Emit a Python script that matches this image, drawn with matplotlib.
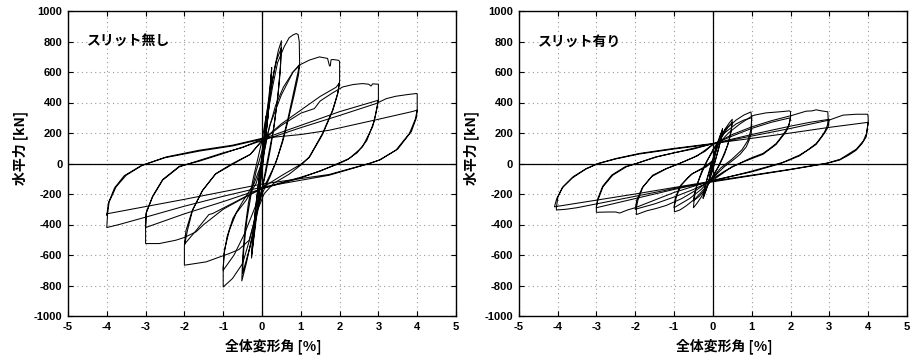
import numpy as np
import matplotlib
matplotlib.use("Agg")
import matplotlib.pyplot as plt

# ---- hysteresis records: (drift angle [%], horizontal force [kN]) ----
# Wall without slit
ns_010 = [(0, 0), (0.05, 160), (0.1, 310), (0.08, 200), (0.03, 60), (0, 0), (-0.05, -140), (-0.1, -290),
          (-0.08, -190), (-0.03, -60), (0, 0), (0.05, 150), (0.1, 300), (0.07, 170), (0, 20), (-0.05, -120),
          (-0.1, -280), (-0.07, -150), (0, -30)]
ns_025 = [(0, -30), (0.08, 150), (0.16, 330), (0.22, 520), (0.25, 630), (0.22, 500), (0.15, 300), (0.07, 120),
          (0, -20), (-0.08, -180), (-0.16, -360), (-0.23, -520), (-0.27, -620), (-0.24, -480), (-0.16, -280),
          (-0.08, -100), (0, 60), (0.08, 220), (0.16, 400), (0.23, 560), (0.25, 600), (0.21, 450), (0.13, 250),
          (0.05, 60), (0, -60), (-0.1, -260), (-0.18, -430), (-0.26, -590), (-0.23, -450), (-0.15, -260),
          (-0.06, -70), (0, 40)]
ns_050 = [(0, 40), (0.1, 230), (0.2, 420), (0.32, 620), (0.42, 740), (0.5, 805), (0.48, 660), (0.42, 470),
          (0.33, 280), (0.22, 100), (0.1, -60), (0, -170), (-0.1, -280), (-0.25, -470), (-0.4, -650),
          (-0.52, -770), (-0.5, -620), (-0.44, -430), (-0.35, -260), (-0.22, -90), (-0.1, 40), (0, 150),
          (0.12, 330), (0.25, 530), (0.38, 680), (0.5, 760), (0.47, 600), (0.4, 420), (0.3, 230), (0.17, 60),
          (0.05, -100), (0, -180), (-0.15, -360), (-0.3, -540), (-0.5, -720), (-0.47, -560), (-0.39, -370),
          (-0.28, -200), (-0.15, -50), (0, 80)]
ns_100 = [(0, 80), (0.12, 280), (0.27, 500), (0.4, 660), (0.57, 765), (0.7, 825), (0.8, 843), (0.88, 852),
          (0.93, 846), (0.96, 800), (0.97, 650), (0.92, 590), (0.79, 437), (0.66, 284), (0.53, 153), (0.4, 40),
          (0.22, -80), (0, -200), (-0.15, -330), (-0.32, -500), (-0.5, -656), (-0.76, -754), (-1.0, -810),
          (-1.0, -680), (-0.97, -569), (-0.84, -437), (-0.67, -328), (-0.41, -241), (-0.15, -130), (0, 0),
          (0.15, 200), (0.35, 380), (0.55, 500), (0.8, 600), (0.97, 650), (0.94, 580), (0.82, 440), (0.68, 290),
          (0.53, 140), (0.35, 0), (0.12, -120), (0, -170), (-0.2, -300), (-0.45, -460), (-0.72, -600),
          (-1.0, -700), (-0.98, -600), (-0.9, -480), (-0.75, -360), (-0.5, -250), (-0.2, -130), (0, 10)]
ns_200 = [(0, 10), (0.2, 250), (0.5, 450), (0.8, 600), (1.0, 650), (1.22, 678), (1.48, 699), (1.69, 689),
          (1.74, 640), (1.76, 640), (1.78, 680), (1.82, 682), (1.97, 677), (2.0, 670), (2.0, 540), (1.95, 460),
          (1.82, 350), (1.56, 197), (1.22, 44), (1.05, 0), (0.7, -70), (0.3, -130), (0.05, -200), (-0.15, -330),
          (-0.33, -503), (-0.6, -565), (-0.84, -590), (-1.44, -645), (-2.0, -667), (-2.0, -540), (-1.92, -437),
          (-1.79, -306), (-1.53, -175), (-1.19, -66), (-0.76, 0), (-0.3, 60), (0, 150), (0.5, 260), (1.0, 350),
          (1.5, 440), (1.91, 500), (2.0, 530), (1.95, 455), (1.82, 345), (1.56, 190), (1.22, 40), (1.0, -5),
          (0.5, -80), (0, -160), (-0.6, -240), (-1.27, -328), (-1.37, -335), (-1.7, -440), (-2.0, -530),
          (-1.96, -440), (-1.8, -310), (-1.54, -180), (-1.2, -70), (-0.76, -5), (-0.3, 60), (0, 150)]
ns_300 = [(0, 150), (0.5, 250), (1.0, 330), (1.35, 360), (1.5, 410), (1.8, 460), (2.08, 502), (2.35, 518),
          (2.59, 524), (2.75, 520), (2.81, 508), (2.85, 522), (3.0, 520), (3.0, 420), (2.98, 393), (2.92, 310),
          (2.85, 240), (2.59, 109), (2.25, 33), (1.95, 0), (1.5, -50), (1.0, -90), (0.5, -125), (0, -165),
          (-0.5, -230), (-1.0, -300), (-1.5, -400), (-1.7, -448), (-2.0, -485), (-2.22, -503), (-2.65, -525),
          (-3.0, -525), (-3.0, -420), (-2.99, -328), (-2.82, -219), (-2.56, -109), (-2.13, -22), (-1.62, 20),
          (-1.0, 70), (-0.5, 105), (0, 160), (1.0, 250), (2.0, 340), (3.0, 415), (2.97, 370), (2.88, 270),
          (2.7, 150), (2.45, 70), (2.2, 25), (1.95, -5), (1.0, -95), (0, -165), (-1.0, -250), (-2.0, -330),
          (-3.0, -420), (-2.98, -320), (-2.82, -215), (-2.56, -105), (-2.13, -18), (-1.62, 15), (-1.0, 65),
          (0, 150)]
ns_400 = [(0, 150), (1.0, 235), (2.0, 315), (2.94, 393), (3.2, 425), (3.45, 441), (3.75, 452), (3.98, 459),
          (4.0, 455), (4.0, 350), (3.95, 290), (3.8, 197), (3.45, 87), (3.02, 22), (2.77, 0), (1.73, -77),
          (1.0, -110), (0, -155), (-1.0, -215), (-2.0, -280), (-3.03, -354), (-3.68, -400), (-4.0, -420),
          (-3.98, -330), (-3.94, -252), (-3.76, -153), (-3.5, -77), (-3.08, -11), (-2.47, 43), (-1.62, 87),
          (-0.76, 120), (0, 165), (1.0, 190), (1.73, 218), (3.0, 290), (3.88, 341), (4.0, 350), (3.98, 300),
          (3.85, 210), (3.5, 95), (3.05, 25), (2.8, 3), (1.73, -72), (0, -135), (-2.0, -235), (-4.0, -330),
          (-4.0, -340), (-3.96, -260), (-3.8, -160), (-3.55, -80), (-3.12, -15), (-2.5, 38), (-1.6, 82),
          (-0.76, 115), (0, 160)]

# Wall with slit
ws_010 = [(0, 0), (0.05, 70), (0.1, 130), (0.07, 80), (0, 10), (-0.05, -60), (-0.1, -120), (-0.07, -70),
          (0, -10), (0.05, 60), (0.1, 125), (0.06, 60), (0, 0), (-0.1, -115), (-0.06, -55), (0, 0)]
ws_025 = [(0, 0), (0.1, 100), (0.18, 170), (0.25, 230), (0.22, 170), (0.14, 90), (0.05, 10), (0, -30),
          (-0.1, -110), (-0.18, -175), (-0.25, -230), (-0.22, -170), (-0.14, -90), (-0.05, -10), (0, 30),
          (0.1, 120), (0.18, 180), (0.25, 220), (0.21, 160), (0.12, 70), (0, -40), (-0.1, -120), (-0.18, -180),
          (-0.25, -225), (-0.21, -160), (-0.12, -80), (0, 20)]
ws_050 = [(0, 20), (0.15, 140), (0.3, 220), (0.42, 265), (0.5, 290), (0.48, 230), (0.42, 150), (0.3, 60),
          (0.15, -20), (0, -80), (-0.15, -150), (-0.3, -220), (-0.42, -265), (-0.5, -290), (-0.48, -230),
          (-0.42, -150), (-0.3, -60), (-0.15, 20), (0, 80), (0.15, 150), (0.3, 215), (0.5, 270), (0.47, 210),
          (0.38, 120), (0.25, 40), (0.1, -40), (0, -90), (-0.2, -170), (-0.35, -215), (-0.5, -245),
          (-0.47, -190), (-0.38, -120), (-0.25, -40), (-0.1, 40), (0, 90)]
ws_100 = [(0, 90), (0.2, 170), (0.4, 240), (0.6, 285), (0.8, 318), (0.98, 338), (1.0, 300), (0.99, 197),
          (0.93, 150), (0.86, 109), (0.7, 60), (0.52, 22), (0.3, -20), (0.1, -70), (0, -100), (-0.2, -160),
          (-0.45, -230), (-0.7, -280), (-0.85, -305), (-0.99, -317), (-0.99, -280), (-0.94, -219),
          (-0.82, -142), (-0.65, -95), (-0.52, -66), (-0.17, -22), (0, 15), (0.1, 120), (0.3, 200),
          (0.6, 260), (0.8, 285), (1.0, 300), (0.98, 220), (0.9, 150), (0.75, 90), (0.5, 30), (0.2, -30),
          (0, -90), (-0.3, -170), (-0.6, -230), (-1.0, -290), (-0.97, -230), (-0.85, -150), (-0.55, -70),
          (-0.2, -20), (0, 20)]
ws_200 = [(0, 20), (0.15, 130), (0.4, 200), (0.7, 260), (1.0, 310), (1.07, 317), (1.37, 332), (1.72, 339),
          (1.97, 345), (2.0, 340), (2.0, 300), (1.96, 255), (1.89, 219), (1.75, 170), (1.63, 131), (1.45, 95),
          (1.29, 66), (1.0, 38), (0.86, 22), (0.6, -10), (0.3, -50), (0, -100), (-0.4, -170), (-0.8, -230),
          (-1.2, -275), (-1.46, -295), (-1.7, -310), (-1.97, -335), (-1.97, -290), (-1.93, -240), (-1.8, -153),
          (-1.55, -77), (-1.2, -33), (-0.86, 0), (-0.5, 40), (-0.2, 80), (0, 125), (0.5, 180), (1.0, 230),
          (1.5, 270), (2.0, 300), (1.96, 250), (1.89, 210), (1.63, 125), (1.29, 60), (0.86, 18), (0.5, -20),
          (0, -110), (-0.5, -170), (-1.0, -220), (-1.5, -265), (-2.0, -300), (-1.96, -240), (-1.82, -160),
          (-1.57, -85), (-1.2, -35), (-0.86, 0), (-0.4, 50), (0, 125)]
ws_300 = [(0, 125), (0.5, 190), (1.0, 240), (1.5, 280), (2.06, 317), (2.4, 343), (2.55, 345), (2.66, 352),
          (2.8, 345), (2.96, 339), (2.97, 290), (2.95, 250), (2.88, 208), (2.78, 170), (2.66, 131), (2.45, 90),
          (2.23, 55), (1.89, 17), (1.75, 0), (1.0, -55), (0, -110), (-1.0, -190), (-1.5, -240), (-2.0, -290),
          (-2.2, -305), (-2.4, -325), (-2.5, -318), (-2.7, -318), (-3.0, -320), (-3.0, -280), (-2.96, -240),
          (-2.83, -153), (-2.58, -77), (-2.23, -22), (-1.97, 0), (-1.46, 44), (-1.0, 70), (-0.5, 95), (0, 130),
          (1.0, 190), (2.0, 245), (2.5, 270), (3.0, 290), (2.97, 240), (2.88, 200), (2.66, 125), (2.23, 50),
          (1.89, 14), (1.7, 0), (1.0, -50), (0, -115), (-1.0, -170), (-2.0, -230), (-3.0, -290),
          (-2.97, -235), (-2.84, -150), (-2.6, -75), (-2.25, -20), (-1.97, 0), (-1.46, 42), (0, 130)]
ws_400 = [(0, 130), (1.0, 180), (2.0, 230), (3.0, 285), (3.35, 317), (3.69, 323), (3.99, 323), (4.0, 300),
          (4.0, 270), (3.95, 175), (3.84, 130), (3.69, 87), (3.5, 55), (3.26, 22), (2.92, 0), (2.0, -40),
          (1.0, -80), (0, -120), (-1.0, -165), (-2.0, -215), (-3.0, -265), (-3.5, -290), (-3.78, -300),
          (-4.03, -305), (-4.03, -290), (-3.99, -219), (-3.86, -153), (-3.6, -87), (-3.26, -33), (-2.96, 0),
          (-2.49, 33), (-1.89, 66), (-1.03, 98), (0, 131), (1.0, 165), (2.0, 200), (3.0, 237), (4.0, 270),
          (3.96, 200), (3.88, 150), (3.7, 95), (3.28, 28), (2.95, 3), (2.0, -38), (0, -115), (-2.0, -200),
          (-4.08, -284), (-4.02, -230), (-3.88, -160), (-3.62, -95), (-3.28, -38), (-2.98, -3), (-2.5, 30),
          (-1.9, 62), (-1.0, 95), (0, 128)]

panel_titles = ["スリット無し", "スリット有り"]
x_ticks = [-5, -4, -3, -2, -1, 0, 1, 2, 3, 4, 5]
y_ticks = [-1000, -800, -600, -400, -200, 0, 200, 400, 600, 800, 1000]
x_label = "全体変形角 [%]"
y_label = "水平力 [kN]"

panels = [
    [ns_010, ns_025, ns_050, ns_100, ns_200, ns_300, ns_400],
    [ws_010, ws_025, ws_050, ws_100, ws_200, ws_300, ws_400],
]

JP = ["Noto Sans CJK JP", "DejaVu Sans"]
NUM = ["Liberation Sans", "DejaVu Sans"]

fig = plt.figure(figsize=(9.18, 3.59), dpi=100)
boxes = [(68, 456), (518.7, 907)]
top_px, bot_px = 11, 316
W, H = 918, 359

for (l_px, r_px), cycles, title in zip(boxes, panels, panel_titles):
    ax = fig.add_axes([l_px / W, 1 - bot_px / H, (r_px - l_px) / W, (bot_px - top_px) / H])
    ax.set_xlim(-5, 5)
    ax.set_ylim(-1000, 1000)
    ax.set_xticks(x_ticks)
    ax.set_yticks(y_ticks)
    ax.set_xticklabels([str(v) for v in x_ticks], fontfamily=NUM, fontweight="bold", fontsize=8)
    ax.set_yticklabels([str(v) for v in y_ticks], fontfamily=NUM, fontweight="bold", fontsize=8)
    ax.tick_params(direction="in", length=3.5, width=0.8, top=True, right=True, pad=4)
    ax.grid(True, color="#9a9a9a", linestyle=(0, (1, 3)), linewidth=0.8)
    for sp in ax.spines.values():
        sp.set_linewidth(1.0)
    ax.axhline(0, color="black", lw=0.9, zorder=2)
    ax.axvline(0, color="black", lw=0.9, zorder=2)
    for cyc in cycles:
        arr = np.array(cyc, dtype=float)
        ax.plot(arr[:, 0], arr[:, 1], color="black", lw=0.75, zorder=3)
    ax.text(-4.5, 800, title, fontfamily=JP, fontweight="bold", fontsize=10, va="center", ha="left")
    ax.set_xlabel(x_label, fontfamily=JP, fontweight="bold", fontsize=10)
    ax.set_ylabel(y_label, fontfamily=JP, fontweight="bold", fontsize=10)
    ax.xaxis.set_label_coords(0.53, -0.072)
    ax.yaxis.set_label_coords(-0.103, 0.55)

fig.savefig("out.png", dpi=100)
